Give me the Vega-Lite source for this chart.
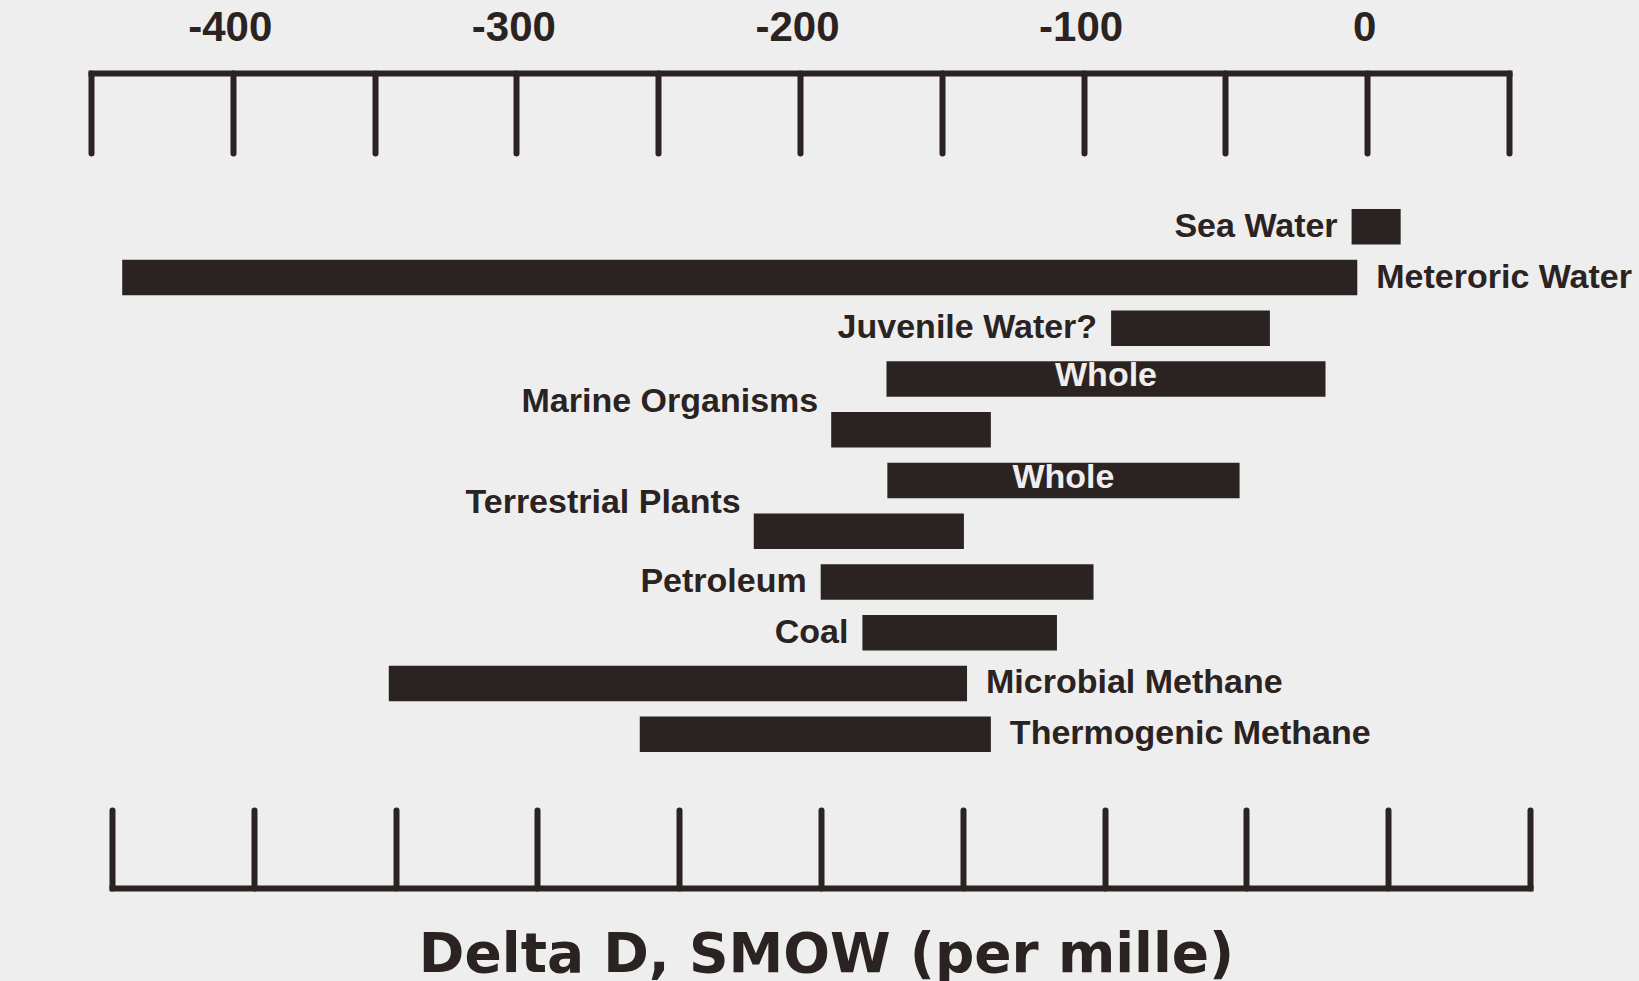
{
  "$schema": "https://vega.github.io/schema/vega-lite/v6.json",
  "width": 1418,
  "height": 815,
  "padding": {"left": 91, "top": 73, "right": 130, "bottom": 93},
  "autosize": {"type": "none"},
  "background": "#eeeeee",
  "config": {"view": {"stroke": null}, "font": "Liberation Sans"},
  "data": {"values": [
    {"row": "Sea Water", "label": "Sea Water", "side": "left", "lo": -5.5, "hi": 11.8},
    {"row": "Meteroric Water", "label": "Meteroric Water", "side": "right", "lo": -439, "hi": -3.5},
    {"row": "Juvenile Water?", "label": "Juvenile Water?", "side": "left", "lo": -90.3, "hi": -34.3},
    {"row": "Marine Organisms (whole)", "label": "Whole", "side": "inside", "lo": -169.5, "hi": -14.7},
    {"row": "Marine Organisms", "label": "Marine Organisms", "side": "above", "lo": -189, "hi": -132.7},
    {"row": "Terrestrial Plants (whole)", "label": "Whole", "side": "inside", "lo": -169.2, "hi": -45},
    {"row": "Terrestrial Plants", "label": "Terrestrial Plants", "side": "above", "lo": -216.3, "hi": -142.2},
    {"row": "Petroleum", "label": "Petroleum", "side": "left", "lo": -192.7, "hi": -96.5},
    {"row": "Coal", "label": "Coal", "side": "left", "lo": -178, "hi": -109.4},
    {"row": "Microbial Methane", "label": "Microbial Methane", "side": "right", "lo": -345, "hi": -141.1},
    {"row": "Thermogenic Methane", "label": "Thermogenic Methane", "side": "right", "lo": -256.5, "hi": -132.7}
  ]},
  "resolve": {"scale": {"x": "independent"}, "axis": {"x": "independent"}},
  "layer": [
    {
      "encoding": {
        "y": {"field": "row", "type": "nominal", "sort": null, "axis": null,
              "scale": {"paddingInner": 0.3, "paddingOuter": 0, "range": [136, 679]}}
      },
      "layer": [
        {
          "mark": {"type": "bar", "color": "#2b2321"},
          "encoding": {
            "x": {"field": "lo", "type": "quantitative",
                  "scale": {"domain": [-450, 50], "nice": false, "zero": false},
                  "axis": {
                    "orient": "top", "title": null, "grid": false,
                    "values": [-450, -400, -350, -300, -250, -200, -150, -100, -50, 0, 50],
                    "tickSize": -80, "tickWidth": 6, "tickColor": "#2b2321", "tickCap": "round",
                    "domainWidth": 6, "domainColor": "#2b2321", "domainCap": "square",
                    "labelExpr": "datum.value >= -400 && datum.value <= 0 && datum.value % 100 == 0 ? '' + datum.value : ''",
                    "labelFontSize": 42, "labelFontWeight": "bold", "labelColor": "#2b2321",
                    "labelBaseline": "alphabetic", "labelPadding": 113, "labelOffset": -3, "labelFlush": false, "labelOverlap": false
                  }},
            "x2": {"field": "hi"}
          }
        },
        {
          "transform": [{"filter": "datum.side == 'left'"}],
          "mark": {"type": "text", "align": "right", "baseline": "middle", "dx": -14, "fontSize": 34, "fontWeight": "bold", "color": "#2b2321"},
          "encoding": {"x": {"field": "lo", "type": "quantitative"}, "text": {"field": "label"}}
        },
        {
          "transform": [{"filter": "datum.side == 'right'"}],
          "mark": {"type": "text", "align": "left", "baseline": "middle", "dx": 19, "fontSize": 34, "fontWeight": "bold", "color": "#2b2321"},
          "encoding": {"x": {"field": "hi", "type": "quantitative"}, "text": {"field": "label"}}
        },
        {
          "transform": [{"filter": "datum.side == 'above'"}],
          "mark": {"type": "text", "align": "right", "baseline": "middle", "dx": -13, "dy": -28, "fontSize": 34, "fontWeight": "bold", "color": "#2b2321"},
          "encoding": {"x": {"field": "lo", "type": "quantitative"}, "text": {"field": "label"}}
        },
        {
          "transform": [{"filter": "datum.side == 'inside'"}, {"calculate": "(datum.lo + datum.hi) / 2", "as": "mid"}],
          "mark": {"type": "text", "align": "center", "baseline": "middle", "dy": -3, "fontSize": 34, "fontWeight": "bold", "color": "#eeeeee"},
          "encoding": {"x": {"field": "mid", "type": "quantitative"}, "text": {"field": "label"}}
        }
      ]
    },
    {
      "mark": {"type": "point", "opacity": 0},
      "encoding": {
        "x": {"field": "lo", "type": "quantitative",
              "scale": {"domain": [-450, 50], "nice": false, "zero": false, "range": [21, 1439]},
              "axis": {
                "orient": "bottom", "grid": false, "labels": false,
                "values": [-450, -400, -350, -300, -250, -200, -150, -100, -50, 0, 50],
                "tickSize": -78, "tickWidth": 6, "tickColor": "#2b2321", "tickCap": "round",
                "domainWidth": 6, "domainColor": "#2b2321", "domainCap": "square",
                "title": "Delta D, SMOW (per mille)", "titleFont": "DejaVu Sans", "titleFontSize": 55, "titleFontWeight": "bold",
                "titleColor": "#2b2321", "titleBaseline": "alphabetic", "titleX": 735, "titleY": 83, "titleAlign": "center"
              }}
      }
    }
  ]
}
